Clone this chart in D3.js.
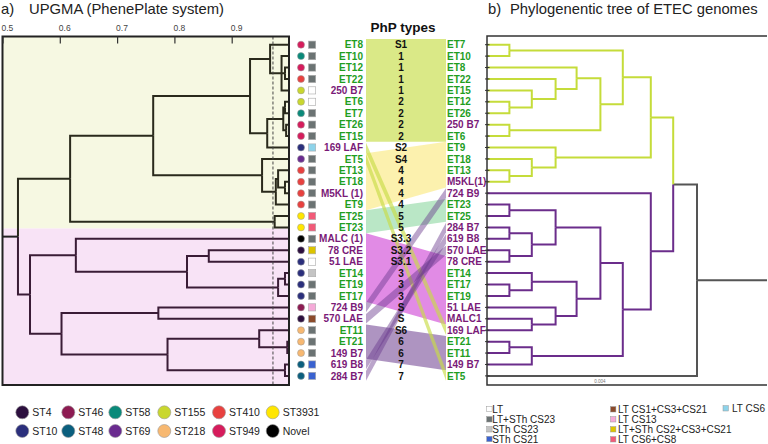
<!DOCTYPE html>
<html><head><meta charset="utf-8">
<script src="https://cdn.jsdelivr.net/npm/d3@7"></script>
<style>
body{margin:0;background:#fff;}
svg{display:block;font-family:"Liberation Sans",Arial,sans-serif;}
</style></head><body>
<svg id="chart" width="768" height="444"></svg>
<script>
// ---------------- DATA ----------------
const leftLabels = ["ET8","ET10","ET12","ET22","250 B7","ET6","ET7","ET26","ET15","169 LAF",
  "ET5","ET13","ET18","M5KL (1)","ET9","ET25","ET23","MALC (1)","78 CRE","51 LAE",
  "ET14","ET19","ET17","724 B9","570 LAE","ET11","ET21","149 B7","619 B8","284 B7"];
const leftST = ["ST949","ST58","ST949","ST410","ST155","ST155","ST58","ST949","ST949","ST10",
  "ST69","ST410","ST410","ST410","ST410","ST3931","ST3931","Novel","ST4","ST10",
  "ST10","ST10","ST10","ST46","ST4","ST218","ST218","ST218","ST48","ST48"];
const leftToxin = ["LT+STh CS23","LT+STh CS23","LT+STh CS23","LT+STh CS23","LT","LT","LT+STh CS23","LT+STh CS23","LT+STh CS23","LT CS6",
  "LT+STh CS23","LT+STh CS23","LT+STh CS23","LT+STh CS23","LT+STh CS23","LT CS6+CS8","LT CS6+CS8","LT+STh CS23","LT+STh CS2+CS3+CS21","LT",
  "STh CS23","LT+STh CS23","LT+STh CS23","LT CS13","LT CS1+CS3+CS21","LT+STh CS23","LT+STh CS23","LT+STh CS23","STh CS21","STh CS21"];
const phpTypes = ["S1","1","1","1","1","2","2","2","2","S2",
  "S4","4","4","4","4","5","5","S3.3","S3.2","S3.1",
  "3","3","3","S","S","S6","6","6","7","7"];
const rightLabels = ["ET7","ET10","ET8","ET22","ET15","ET12","ET26","250 B7","ET6","ET9",
  "ET18","ET13","M5KL(1)","724 B9","ET23","ET25","284 B7","619 B8","570 LAE","78 CRE",
  "ET14","ET17","ET19","51 LAE","MALC1","169 LAF","ET21","ET11","149 B7","ET5"];

const upgmaTicks = [0.5,0.6,0.7,0.8,0.9];
const upgmaCutoff = 0.972;
// UPGMA similarity tree: [height, ...children]; leaves are labels
const treeA = [0.527,
  [0.618,
    [0.763,
      [0.932,
        [0.967, "ET8", [0.987, "ET10", [0.993, "ET12", "ET22"], "250 B7"]],
        [0.962, [0.99, [0.993, "ET6", "ET7"], [0.995, "ET26", "ET15"]], "169 LAF"]],
      [0.953, "ET5", [0.977, [0.981, "ET13", [0.993, "ET18", "M5KL (1)"]], "ET9"]]],
    [0.975, "ET25", "ET23"]],
  [0.548,
    [0.628, "MALC (1)", [0.822, [0.86, "78 CRE", "51 LAE"], [0.981, [0.993, "ET14", "ET19"], "ET17"]]],
    [0.603, [0.772, "724 B9", "570 LAE"],
      [0.788, [0.948, "ET11", [0.997, "ET21", "149 B7"]], [0.993, "619 B8", "284 B7"]]]]];
// phylogenetic tree distances (x 0.001)
const treeB = [15.0,
  [13.3,
    [11.7,
      [9.7, [1.6, "ET7", "ET10"],
        [8.1, [6.4, "ET8", [4.9, "ET22", [3.2, "ET15", [1.6, "ET12", "ET26"]]]], [1.6, "250 B7", "ET6"]]],
      [4.9, "ET9", [3.2, "ET18", [1.6, "ET13", "M5KL(1)"]]]],
    [11.7, "724 B9",
      [9.7,
        [8.1,
          [4.9, [1.6, "ET23", "ET25"], [3.2, [1.6, "284 B7", "619 B8"], [1.6, "570 LAE", "78 CRE"]]],
          [6.4, [3.2, "ET14", [1.6, "ET17", "ET19"]], [4.9, "51 LAE", [3.2, "MALC1", "169 LAF"]]]],
        [3.2, [1.6, "ET21", "ET11"], "149 B7"]]]],
  "ET5"];
const treeBMax = 20;
const clusterYellowB = ["ET7","ET10","ET8","ET22","ET15","ET12","ET26","250 B7","ET6","ET9","ET18","ET13","M5KL(1)"];

// PhP type groups: 1-based row ranges on each side
const bandLeft  = [[1,9],[11,15],[16,17],[18,23],[26,28]];
const bandRight = [[1,9],[10,13],[15,16],[20,25],[27,29]];
const strandPairs = [["169 LAF","169 LAF"],["ET5","ET5"],["724 B9","724 B9"],["570 LAE","570 LAE"],["619 B8","619 B8"],["284 B7","284 B7"]];

const stLegend = ["ST4","ST46","ST58","ST155","ST410","ST3931","ST10","ST48","ST69","ST218","ST949","Novel"];
const toxinLegend = ["LT","LT+STh CS23","STh CS23","STh CS21","LT CS1+CS3+CS21","LT CS13","LT+STh CS2+CS3+CS21","LT CS6+CS8","LT CS6"];

// ---------------- STYLE ----------------
const stColor = {ST4:"#2c0f3e",ST46:"#8d1b52",ST58:"#0a8a7a",ST155:"#c9d72e",ST410:"#e8413f",ST3931:"#ffe600",
  ST10:"#2b2f7c",ST48:"#0b5f7e",ST69:"#6a2b8f",ST218:"#f7b871",ST949:"#d61c5c",Novel:"#000000"};
const toxColor = {"LT":"#ffffff","LT+STh CS23":"#6b7373","STh CS23":"#c4c4c4","STh CS21":"#3a62d0",
  "LT CS1+CS3+CS21":"#8b4b2b","LT CS13":"#f5aad8","LT+STh CS2+CS3+CS21":"#dcc400","LT CS6+CS8":"#f25a78","LT CS6":"#8dd3ea"};
const bandColors = ["rgba(205,225,95,0.75)","rgba(250,232,120,0.6)","rgba(140,215,160,0.6)","rgba(215,100,220,0.75)","rgba(130,90,160,0.65)"];
const green = "#1f9e1f", purple = "#7a1a78";

const svg = d3.select("#chart");
const rowY = d3.scaleLinear().domain([0, 29]).range([44.7, 375.9]);
const labelColor = l => l.startsWith("ET") ? green : purple;

// ---------------- TITLES ----------------
svg.append("text").attr("x",1).attr("y",13.5).attr("font-size",14.8).attr("fill","#222").text("a)");
svg.append("text").attr("x",29).attr("y",13.5).attr("font-size",14.8).attr("fill","#222").text("UPGMA (PhenePlate system)");
svg.append("text").attr("x",488).attr("y",13.5).attr("font-size",14.8).attr("fill","#222").text("b)");
svg.append("text").attr("x",510).attr("y",13.5).attr("font-size",14.8).attr("fill","#222").text("Phylogenentic tree of ETEC genomes");
svg.append("text").attr("x",403).attr("y",31.5).attr("text-anchor","middle").attr("font-size",13.5).attr("font-weight","bold").attr("fill","#111").text("PhP types");

// ---------------- PANEL A ----------------
const xA = d3.scaleLinear().domain([0.5, 1.0]).range([2.5, 289]);
const boxTop = 36.5, boxBot = 385, split = 228.5;
svg.append("rect").attr("x",xA(0.5)).attr("y",boxTop).attr("width",xA(1)-xA(0.5)).attr("height",split-boxTop).attr("fill","#f6f8e2");
svg.append("rect").attr("x",xA(0.5)).attr("y",split).attr("width",xA(1)-xA(0.5)).attr("height",boxBot-split).attr("fill","#f8e3f6");

function layout(node, yOf) {
  if (typeof node === "string") return {label: node, leaf: true, y: yOf(node), h: null};
  const ch = node.slice(1).map(c => layout(c, yOf));
  return {h: node[0], children: ch, y: (ch[0].y + ch[ch.length-1].y) / 2};
}
function leavesOf(n){ return n.leaf ? [n.label] : n.children.flatMap(leavesOf); }

const rootA = layout(treeA, l => rowY(leftLabels.indexOf(l)));
const topSet = new Set(leftLabels.slice(0,17));
function colA(n){ const ls = leavesOf(n); if (ls.every(l=>topSet.has(l))) return "#2a2a1c"; if (ls.every(l=>!topSet.has(l))) return "#3a1c36"; return "#222"; }
const gA = svg.append("g").attr("fill","none").attr("stroke-width",2);
function drawA(n){
  if (n.leaf) return;
  n.children.forEach(c => {
    const cx = c.leaf ? xA(1.0) : xA(c.h);
    gA.append("path").attr("d",`M${xA(n.h)},${n.y}V${c.y}H${cx}`).attr("stroke",colA(c));
    drawA(c);
  });
}
drawA(rootA);
gA.append("path").attr("d",`M${xA(0.5)},${rootA.y}H${xA(rootA.h)}`).attr("stroke","#222");
svg.append("line").attr("x1",xA(upgmaCutoff)).attr("x2",xA(upgmaCutoff)).attr("y1",boxTop).attr("y2",boxBot)
  .attr("stroke","#444").attr("stroke-width",1).attr("stroke-dasharray","3,2");
svg.append("rect").attr("x",xA(0.5)).attr("y",boxTop).attr("width",xA(1)-xA(0.5)).attr("height",boxBot-boxTop)
  .attr("fill","none").attr("stroke","#222").attr("stroke-width",2);
const axA = svg.append("g").attr("transform",`translate(0,${boxTop})`)
  .call(d3.axisTop(xA).tickValues(upgmaTicks).tickSize(-7).tickPadding(6).tickFormat(d3.format(".1f")));
axA.select(".domain").remove();
axA.selectAll(".tick line").attr("stroke","#333").attr("stroke-width",1.2);
axA.selectAll(".tick text").attr("font-size",8.5).attr("fill","#444").attr("text-anchor","start").attr("dx",-1.5)
  .attr("font-family","'Liberation Sans',Arial,sans-serif");

// ---------------- MIDDLE ----------------
const bandX0 = 366, bandX1 = 446, half = 5.7;
const gBand = svg.append("g");
bandLeft.forEach((bl, i) => {
  const br = bandRight[i];
  const pts = [[bandX0, rowY(bl[0]-1)-half],[bandX1, rowY(br[0]-1)-half],[bandX1, rowY(br[1]-1)+half],[bandX0, rowY(bl[1]-1)+half]];
  gBand.append("path").attr("d", d3.line()(pts)+"Z").attr("fill", bandColors[i]);
});
strandPairs.forEach(([l, r]) => {
  const li = leftLabels.indexOf(l), ri = rightLabels.indexOf(r);
  const hs = 4.8;
  const pts = [[bandX0, rowY(li)-hs],[bandX1, rowY(ri)-hs],[bandX1, rowY(ri)+hs],[bandX0, rowY(li)+hs]];
  gBand.append("path").attr("d", d3.line()(pts)+"Z")
    .attr("fill", li < 17 ? "rgba(200,220,70,0.65)" : "rgba(105,55,140,0.45)");
});

const gMid = svg.append("g");
leftLabels.forEach((l, i) => {
  const y = rowY(i);
  gMid.append("circle").attr("cx",301).attr("cy",y).attr("r",3.5).attr("fill",stColor[leftST[i]]).attr("stroke","#999").attr("stroke-width",0.5);
  gMid.append("rect").attr("x",308.5).attr("y",y-3.6).attr("width",7.2).attr("height",7.2).attr("fill",toxColor[leftToxin[i]]).attr("stroke","#aaa").attr("stroke-width",0.6);
  gMid.append("text").attr("x",363).attr("y",y).attr("dy","0.36em").attr("text-anchor","end").attr("font-size",10).attr("font-weight","bold").attr("fill",labelColor(l)).text(l);
  gMid.append("text").attr("x",401).attr("y",y).attr("dy","0.36em").attr("text-anchor","middle").attr("font-size",10).attr("font-weight","bold").attr("fill","#111").text(phpTypes[i]);
});
rightLabels.forEach((l, i) => {
  gMid.append("text").attr("x",447).attr("y",rowY(i)).attr("dy","0.36em").attr("font-size",10).attr("font-weight","bold").attr("fill",labelColor(l)).text(l);
});

// ---------------- PANEL B ----------------
const xB = d3.scaleLinear().domain([0, treeBMax]).range([487, 767]);
const rootB = layout(treeB, l => rowY(rightLabels.indexOf(l)));
const ySet = new Set(clusterYellowB);
function colB(n){ const ls = leavesOf(n); if (ls.every(l=>ySet.has(l))) return "#c5dc3a"; if (ls.every(l=>!ySet.has(l)) && !ls.includes("ET5")) return "#6b2d8b"; return "#555"; }
const gB = svg.append("g").attr("fill","none").attr("stroke-width",2);
function drawB(n){
  if (n.leaf) return;
  n.children.forEach(c => {
    const cx = c.leaf ? xB(0) : xB(c.h);
    gB.append("path").attr("d",`M${xB(n.h)},${n.y}V${c.y}H${cx}`).attr("stroke",colB(c));
    drawB(c);
  });
}
drawB(rootB);
gB.append("path").attr("d",`M${xB(rootB.h)},${rootB.y}H${xB(treeBMax)}`).attr("stroke","#555");
svg.append("path").attr("d",`M${xB(treeBMax)},36H${xB(0)}V385H${xB(treeBMax)}`).attr("fill","none").attr("stroke","#333").attr("stroke-width",1.5);
rightLabels.forEach((l,i) => svg.append("line").attr("x1",485).attr("x2",489.5).attr("y1",rowY(i)).attr("y2",rowY(i)).attr("stroke","#333").attr("stroke-width",1));
svg.append("text").attr("x",600).attr("y",382.5).attr("text-anchor","middle").attr("font-size",4.5).attr("fill","#777").text("0.004");

// ---------------- LEGENDS ----------------
const stX = [22.3, 68.3, 115.3, 164.3, 219, 272.7], stY = [412.3, 431];
stLegend.forEach((s, i) => {
  const x = stX[i % 6], y = stY[Math.floor(i / 6)];
  svg.append("circle").attr("cx",x).attr("cy",y).attr("r",6.5).attr("fill",stColor[s]).attr("stroke","#999").attr("stroke-width",0.6);
  svg.append("text").attr("x",x+10).attr("y",y).attr("dy","0.36em").attr("font-size",10.5).attr("fill","#222").text(s);
});
const toxPos = [[486.7,409],[486.7,419.3],[486.7,429.3],[486.7,439],[610.5,409.3],[610.5,419.3],[610.5,429.3],[610.5,439.3],[723,408.3]];
toxinLegend.forEach((t, i) => {
  const [x, y] = toxPos[i];
  svg.append("rect").attr("x",x).attr("y",y-2.7).attr("width",5.4).attr("height",5.4).attr("fill",toxColor[t]).attr("stroke","#999").attr("stroke-width",0.5);
  svg.append("text").attr("x",x+(i===8?9:(i<4?5.5:7.5))).attr("y",y).attr("dy","0.36em").attr("font-size",10).attr("fill","#222").text(t);
});
</script>
</body></html>
